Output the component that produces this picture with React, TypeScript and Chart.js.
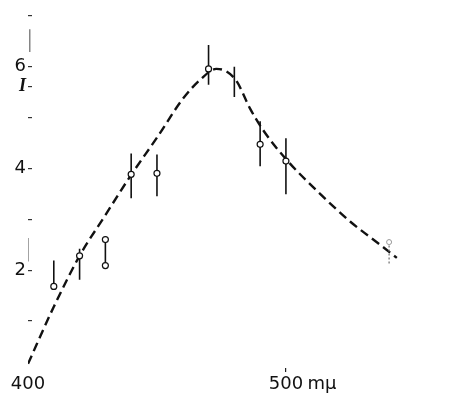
import { useEffect, useRef } from 'react';
import { Chart, registerables } from 'chart.js';

Chart.register(...registerables);

// Smooth fitted curve (wavelength in mμ, intensity I)
const curveWl = [400, 410, 420, 430, 440, 450, 460, 467, 473, 477, 481, 486, 491, 500, 512, 525, 538, 543];
const curveI = [0.16, 1.28, 2.28, 3.08, 3.87, 4.6, 5.36, 5.75, 5.95, 5.9, 5.7, 5.18, 4.76, 4.18, 3.56, 2.95, 2.44, 2.24];

// Measured points (open circles)
const pointWl = [410, 420, 430, 430, 440, 450, 470, 490, 500];
const pointI = [1.68, 2.28, 2.6, 2.09, 3.88, 3.9, 5.95, 4.47, 4.14];

// Error bars
const barWl = [410, 420, 430, 440, 450, 470, 480, 490, 500];
const barLow = [1.68, 1.81, 2.09, 3.41, 3.45, 5.64, 5.4, 4.04, 3.49];
const barHigh = [2.19, 2.42, 2.6, 4.29, 4.27, 6.42, 5.99, 4.92, 4.59];

// Faint (dotted) measurement
const faintWl = [540];
const faintI = [2.55];
const faintLow = [2.13];
const faintHigh = [2.61];

// Faded traces of the original axis line
const traceWl = [400.7, 400];
const traceLow = [6.28, 2.17];
const traceHigh = [6.73, 2.63];

// Ticks
const xTickValues = [400, 500, 514];
const xTickLabels = ['400', '500', 'mμ'];
const yTickValues = [1, 2, 3, 4, 5, 5.6, 6, 7];
const yTickLabels = ['', '2', '', '4', '', 'I', '6', ''];

function segments(xs: number[], lo: number[], hi: number[]) {
  const out: { x: number; y: number | null }[] = [];
  xs.forEach((x, i) => {
    out.push({ x, y: lo[i] });
    out.push({ x, y: hi[i] });
    out.push({ x, y: null });
  });
  return out;
}

export default function App() {
  const ref = useRef<HTMLCanvasElement | null>(null);

  useEffect(() => {
    if (!ref.current) return;
    const font = { family: '"DejaVu Sans", sans-serif', size: 18 };
    const chart = new Chart(ref.current, {
      type: 'line',
      data: {
        datasets: [
          {
            label: 'points',
            data: pointWl.map((x, i) => ({ x, y: pointI[i] })),
            showLine: false,
            pointRadius: 3,
            pointBorderWidth: 1.2,
            pointBorderColor: '#111',
            pointBackgroundColor: '#fff',
            order: 0,
          },
          {
            label: 'faintPoint',
            data: faintWl.map((x, i) => ({ x, y: faintI[i] })),
            showLine: false,
            pointRadius: 2.5,
            pointBorderWidth: 1,
            pointBorderColor: '#999',
            pointBackgroundColor: '#fff',
            order: 0,
          },
          {
            label: 'bars',
            data: segments(barWl, barLow, barHigh),
            borderColor: '#111',
            borderWidth: 1.6,
            pointRadius: 0,
            spanGaps: false,
            order: 1,
          },
          {
            label: 'faintBar',
            data: segments(faintWl, faintLow, faintHigh),
            borderColor: '#777',
            borderWidth: 1.3,
            borderDash: [2, 2],
            pointRadius: 0,
            spanGaps: false,
            order: 1,
          },
          {
            label: 'trace',
            data: segments(traceWl, traceLow, traceHigh),
            borderColor: '#666',
            borderWidth: 1.2,
            pointRadius: 0,
            spanGaps: false,
            order: 1,
          },
          {
            label: 'curve',
            data: curveWl.map((x, i) => ({ x, y: curveI[i] })),
            borderColor: '#111',
            borderWidth: 2.4,
            borderDash: [9, 5],
            pointRadius: 0,
            cubicInterpolationMode: 'monotone',
            order: 2,
          },
        ],
      },
      options: {
        animation: false,
        responsive: false,
        events: [],
        layout: { padding: { top: 3, left: 0, right: 0, bottom: 0 } },
        plugins: { legend: { display: false }, tooltip: { enabled: false } },
        scales: {
          x: {
            type: 'linear',
            min: 400,
            max: 567.8,
            border: { display: false },
            grid: {
              drawOnChartArea: false,
              drawTicks: true,
              tickLength: -4,
              lineWidth: 1.2,
              color: (ctx: any) => (ctx.tick && ctx.tick.value === 500 ? '#222' : 'rgba(0,0,0,0)'),
            },
            afterBuildTicks: (scale: any) => {
              scale.ticks = xTickValues.map((v) => ({ value: v }));
            },
            afterFit: (scale: any) => {
              scale.height = 21;
              scale.paddingLeft = 0;
              scale.paddingRight = 0;
              scale.paddingTop = 0;
              scale.paddingBottom = 0;
            },
            ticks: {
              autoSkip: false,
              maxRotation: 0,
              padding: 6,
              color: '#111',
              font,
              callback: (_v: any, i: number) => xTickLabels[i],
            },
          },
          y: {
            type: 'linear',
            min: 0,
            max: 7.2,
            border: { display: false },
            grid: {
              drawOnChartArea: false,
              drawTicks: true,
              tickLength: -4,
              lineWidth: 1.2,
              color: '#333',
            },
            afterBuildTicks: (scale: any) => {
              scale.ticks = yTickValues.map((v) => ({ value: v }));
            },
            afterFit: (scale: any) => {
              scale.width = 28;
              scale.paddingTop = 0;
              scale.paddingBottom = 0;
              scale.paddingLeft = 0;
              scale.paddingRight = 0;
            },
            ticks: {
              autoSkip: false,
              padding: 6,
              color: '#111',
              font: (ctx: any) =>
                yTickLabels[ctx.index] === 'I'
                  ? { family: '"Liberation Serif", serif', size: 18, style: 'italic', weight: 'bold' }
                  : font,
              callback: (_v: any, i: number) => yTickLabels[i],
            },
          },
        },
      },
    } as any);
    return () => chart.destroy();
  }, []);

  return (
    <div style={{ position: 'fixed', left: 0, top: 0, width: 466, height: 393, background: '#fff' }}>
      <canvas ref={ref} width={466} height={393} style={{ display: 'block' }} />
    </div>
  );
}
